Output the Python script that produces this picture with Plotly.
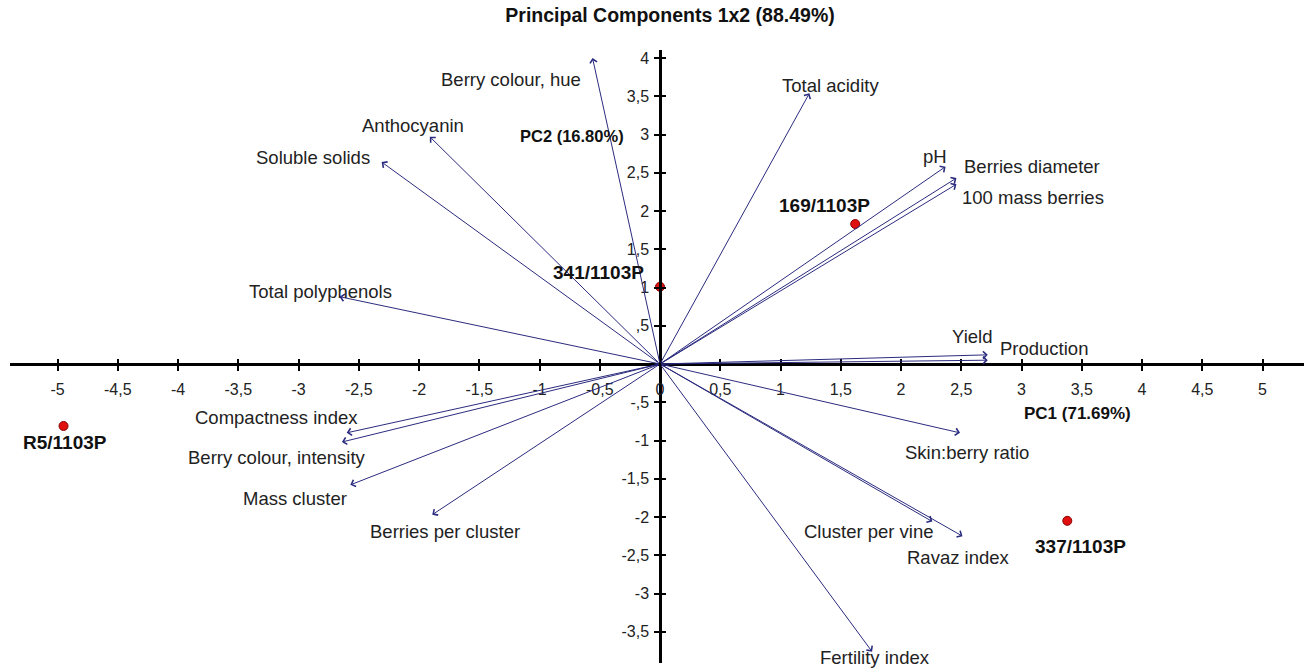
import plotly.graph_objects as go

# ---------------- data ----------------
var_names = ["Berry colour, hue", "Total acidity", "Anthocyanin", "Soluble solids", "pH",
             "Berries diameter", "100 mass berries", "Total polyphenols", "Yield", "Production",
             "Compactness index", "Berry colour, intensity", "Mass cluster", "Berries per cluster",
             "Skin:berry ratio", "Cluster per vine", "Ravaz index", "Fertility index"]
var_pc1 = [-0.56, 1.24, -1.91, -2.31, 2.37, 2.46, 2.46, -2.66, 2.72, 2.72,
           -2.60, -2.64, -2.57, -1.89, 2.49, 2.26, 2.51, 1.76]
var_pc2 = [4.00, 3.54, 2.97, 2.64, 2.58, 2.43, 2.35, 0.88, 0.12, 0.05,
           -0.90, -1.02, -1.58, -1.97, -0.90, -2.06, -2.25, -3.76]

obs_names = ["169/1103P", "341/1103P", "R5/1103P", "337/1103P"]
obs_pc1 = [1.62, 0.0, -4.95, 3.38]
obs_pc2 = [1.83, 1.01, -0.81, -2.05]

x_tickvals = [-5, -4.5, -4, -3.5, -3, -2.5, -2, -1.5, -1, -0.5, 0, 0.5, 1, 1.5, 2, 2.5, 3, 3.5, 4, 4.5, 5]
x_ticktext = ["-5", "-4,5", "-4", "-3,5", "-3", "-2,5", "-2", "-1,5", "-1", "-0,5", "0", "0,5", "1",
              "1,5", "2", "2,5", "3", "3,5", "4", "4,5", "5"]
y_tickvals = [-3.5, -3, -2.5, -2, -1.5, -1, -0.5, 0.5, 1, 1.5, 2, 2.5, 3, 3.5, 4]
y_ticktext = ["-3,5", "-3", "-2,5", "-2", "-1,5", "-1", "-,5", ",5", "1", "1,5", "2", "2,5", "3", "3,5", "4"]

title_text = "Principal Components 1x2 (88.49%)"
pc1_title = "PC1 (71.69%)"
pc2_title = "PC2 (16.80%)"

# ---------------- layout constants (pixels) ----------------
W, H = 1304, 668
M_T, M_B = 50, 5
X_LEFT_PX = 10
ORIGIN_X, ORIGIN_Y = 660, 364
SX, SY = 120.5, 76.5

x_range = [-(ORIGIN_X - X_LEFT_PX) / SX, (W - ORIGIN_X) / SX]
y_range = [-(H - M_B - ORIGIN_Y) / SY, (ORIGIN_Y - M_T) / SY]
plot_h = H - M_T - M_B
xaxis_pos = (H - M_B - ORIGIN_Y) / plot_h      # paper-y of y=0
yaxis_pos = ORIGIN_X / W                        # paper-x of x=0
x_domain = [X_LEFT_PX / W, 1]

# label offsets (px) relative to arrow tips / points
var_label_dx = [-82, 21, -17, -69, -11, 76, 77, -19, -16, 56, -70, -65, -55, 13, 7, -63, -4, 3]
var_label_dy = [21, -8, -11, -5, -10, -12, 13, -5, -18, -12, -15, 15, 14, 17, 20, 10, 21, 6]
obs_label_dx = [-31, -62, 1, 13]
obs_label_dy = [-19, -14, 17, 26]

ARROW_COLOR = "#2b2b7f"
TEXT_COLOR = "#222222"
FONT = "Liberation Sans, Arial, sans-serif"

fig = go.Figure()

# observation points
fig.add_trace(go.Scatter(
    x=obs_pc1, y=obs_pc2, mode="markers",
    marker=dict(color="#e01010", size=9, line=dict(color="#8a0000", width=1)),
    hoverinfo="skip", showlegend=False,
))
# helper trace for overlay axes (crossing ticks)
fig.add_trace(go.Scatter(x=[0], y=[0], xaxis="x2", yaxis="y2", mode="markers",
                         marker=dict(opacity=0), hoverinfo="skip", showlegend=False))

annotations = []
for name, px, py, dx, dy in zip(var_names, var_pc1, var_pc2, var_label_dx, var_label_dy):
    annotations.append(dict(
        x=px, y=py, xref="x", yref="y", ax=0, ay=0, axref="x", ayref="y",
        text="", showarrow=True, arrowhead=4, arrowsize=1.4, arrowwidth=1,
        arrowcolor=ARROW_COLOR, standoff=0,
    ))
    annotations.append(dict(
        x=px, y=py, xref="x", yref="y", text=name, showarrow=False,
        xshift=dx, yshift=-dy, xanchor="center", yanchor="middle",
        font=dict(family=FONT, size=18.5, color=TEXT_COLOR),
    ))
for name, px, py, dx, dy in zip(obs_names, obs_pc1, obs_pc2, obs_label_dx, obs_label_dy):
    annotations.append(dict(
        x=px, y=py, xref="x", yref="y", text="<b>" + name + "</b>", showarrow=False,
        xshift=dx, yshift=-dy, xanchor="center", yanchor="middle",
        font=dict(family=FONT, size=19, color="#111111"),
    ))
# axis titles
annotations.append(dict(x=0, y=y_range[1], xref="x", yref="y", text="<b>" + pc2_title + "</b>",
                        showarrow=False, xshift=-88, yshift=-(136 - M_T),
                        xanchor="center", yanchor="middle",
                        font=dict(family=FONT, size=16.5, color="#111111")))
annotations.append(dict(x=x_range[1], y=0, xref="x", yref="y", text="<b>" + pc1_title + "</b>",
                        showarrow=False, xshift=-(W - 1077), yshift=-49,
                        xanchor="center", yanchor="middle",
                        font=dict(family=FONT, size=17, color="#111111")))

axis_common = dict(showgrid=False, zeroline=False, anchor="free", showline=True,
                   linecolor="black", linewidth=2.5, ticks="outside", ticklen=5,
                   tickwidth=1.5, tickcolor="black",
                   tickfont=dict(family=FONT, size=16, color="#222222"))

fig.update_layout(
    width=W, height=H,
    margin=dict(l=0, r=0, t=M_T, b=M_B, pad=0),
    paper_bgcolor="white", plot_bgcolor="white",
    title=dict(text="<b>" + title_text + "</b>", x=670 / W, xref="container", xanchor="center",
               y=1 - 15 / H, yref="container", yanchor="middle",
               font=dict(family=FONT, size=19.5, color="#111111")),
    xaxis=dict(range=x_range, domain=x_domain, position=xaxis_pos,
               tickvals=x_tickvals, ticktext=x_ticktext, ticklabelstandoff=5, **axis_common),
    yaxis=dict(range=y_range, domain=[0, 1], position=yaxis_pos,
               tickvals=y_tickvals, ticktext=y_ticktext, ticklabelstandoff=2, **axis_common),
    xaxis2=dict(range=x_range, domain=x_domain, overlaying="x", anchor="free", position=xaxis_pos,
                showgrid=False, zeroline=False, showline=False, ticks="inside", ticklen=5,
                tickwidth=1.5, tickcolor="black", tickvals=x_tickvals, showticklabels=False),
    yaxis2=dict(range=y_range, domain=[0, 1], overlaying="y", anchor="free", position=yaxis_pos,
                showgrid=False, zeroline=False, showline=False, ticks="inside", ticklen=5,
                tickwidth=1.5, tickcolor="black", tickvals=y_tickvals, showticklabels=False),
    annotations=annotations,
    showlegend=False,
)

fig.write_html("out.html")
